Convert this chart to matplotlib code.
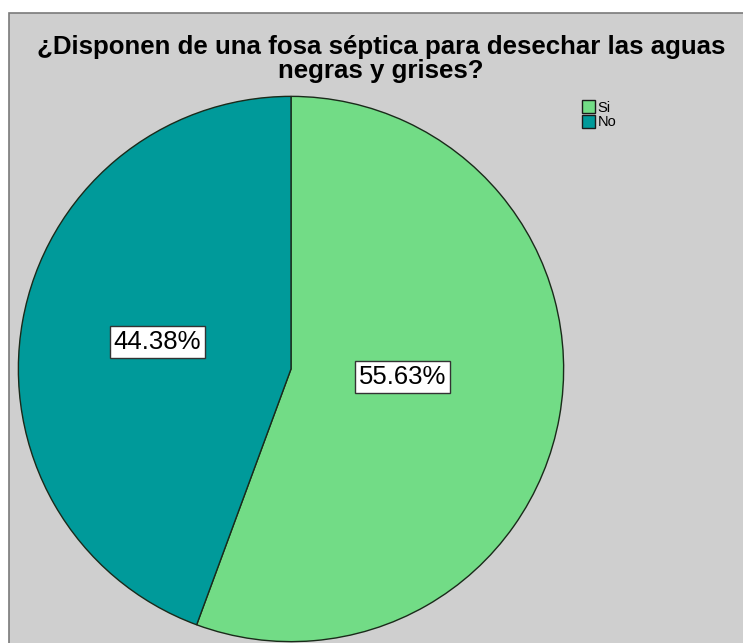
import matplotlib.pyplot as plt
from matplotlib.patches import Rectangle, Patch

categories = ['Si', 'No']
values = [55.63, 44.38]
colors = ['#72DC86', '#009A9A']
# label positions inside the pie (fraction of radius)
label_pos = [(0.41, -0.03), (-0.49, 0.10)]

fig = plt.figure(figsize=(7.43, 6.43), dpi=100)
fig.patch.set_facecolor('white')

# gray chart panel
panel = Rectangle((9 / 743, -0.01), 1.0, 1 - 13 / 643 + 0.01, transform=fig.transFigure,
                  facecolor='#cfcfcf', edgecolor='#7a7a7a', linewidth=1.2, zorder=-10)
fig.patches.append(panel)

fig.text(381 / 743, 1 - 47 / 643, '¿Disponen de una fosa séptica para desechar las aguas',
         ha='center', va='center', fontsize=18.6, family='Liberation Sans', fontweight='bold')
fig.text(381 / 743, 1 - 71 / 643, 'negras y grises?',
         ha='center', va='center', fontsize=18.6, family='Liberation Sans', fontweight='bold')

ax = fig.add_axes([17 / 743, 0 / 643, 548 / 743, 548 / 643])
ax.patch.set_visible(False)
ax.pie(values, colors=colors, startangle=90, counterclock=False,
       wedgeprops=dict(edgecolor='#1a2a1a', linewidth=1.0))
ax.set_xlim(-1.005, 1.005)
ax.set_ylim(-1.005, 1.005)
ax.set_aspect('equal')
ax.axis('off')

for v, (x, y) in zip(values, label_pos):
    ax.text(x, y, f'{v:.2f}%', ha='center', va='center', fontsize=18.5, family='Liberation Sans',
            bbox=dict(boxstyle='square,pad=0.15', facecolor='white', edgecolor='#333333', linewidth=1))

handles = [Patch(facecolor=c, edgecolor='#1a1a1a', label=l) for c, l in zip(colors, categories)]
fig.legend(handles=handles, loc='upper left', bbox_to_anchor=(572 / 743, 1 - 90 / 643),
           frameon=False, handlelength=0.9, handleheight=1.0,
           handletextpad=0.15, labelspacing=0.0, borderpad=0.2,
           prop={'family': 'Liberation Sans', 'size': 10.5})

fig.savefig('out.png', dpi=100)
